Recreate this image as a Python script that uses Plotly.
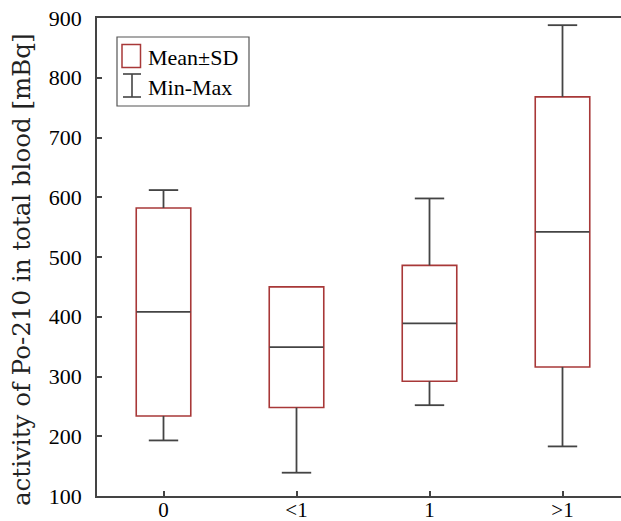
import plotly.graph_objects as go

categories = ["0", "<1", "1", ">1"]
means = [408, 349, 389, 542]
sds = [174, 101, 97, 226]
mins = [193, 139, 252, 183]
maxs = [612, 450, 598, 888]
y_ticks = [100, 200, 300, 400, 500, 600, 700, 800, 900]

RED = "#a83838"
DARK = "#444444"
SERIF = "Liberation Serif, Times New Roman, serif"

xs = list(range(len(categories)))
lows = [m - s for m, s in zip(means, sds)]
highs = [m + s for m, s in zip(means, sds)]

W, H = 630, 521
L, T, B = 97, 18, 25
PW, PH = W - L, H - T - B

fig = go.Figure()

# Mean ± SD boxes
fig.add_trace(go.Bar(
    x=xs, y=[2 * s for s in sds], base=lows, width=0.41,
    marker=dict(color="white", line=dict(color=RED, width=1.6)),
    showlegend=False, hoverinfo="skip",
))

# whisker stems
wx, wy = [], []
for i in xs:
    if maxs[i] > highs[i]:
        wx += [i, i, None]
        wy += [highs[i], maxs[i], None]
    if mins[i] < lows[i]:
        wx += [i, i, None]
        wy += [lows[i], mins[i], None]
fig.add_trace(go.Scatter(x=wx, y=wy, mode="lines",
                         line=dict(color=DARK, width=1.8),
                         showlegend=False, hoverinfo="skip"))

# whisker caps (line-ew symbol is 1.4 x size wide)
cx, cy = [], []
for i in xs:
    if maxs[i] > highs[i]:
        cx.append(i); cy.append(maxs[i])
    if mins[i] < lows[i]:
        cx.append(i); cy.append(mins[i])
fig.add_trace(go.Scatter(x=cx, y=cy, mode="markers",
                         marker=dict(symbol="line-ew", size=21,
                                     line=dict(color=DARK, width=1.8)),
                         showlegend=False, hoverinfo="skip"))

# mean lines
fig.add_trace(go.Scatter(x=xs, y=means, mode="markers",
                         marker=dict(symbol="line-ew", size=38.5,
                                     line=dict(color=DARK, width=1.8)),
                         showlegend=False, hoverinfo="skip"))

def px(x):
    return (x - L) / PW

def py(y):
    return (H - B - y) / PH

shapes = [
    dict(type="rect", xref="paper", yref="paper", x0=px(117), x1=px(249),
         y0=py(106), y1=py(37), line=dict(color="#555555", width=1.2)),
    dict(type="rect", xref="paper", yref="paper", x0=px(122), x1=px(140.5),
         y0=py(67.5), y1=py(44.5), line=dict(color=RED, width=1.5)),
    dict(type="line", xref="paper", yref="paper", x0=px(132), x1=px(132),
         y0=py(97), y1=py(74), line=dict(color=DARK, width=1.6)),
    dict(type="line", xref="paper", yref="paper", x0=px(123), x1=px(141),
         y0=py(97), y1=py(97), line=dict(color=DARK, width=1.6)),
    dict(type="line", xref="paper", yref="paper", x0=px(123), x1=px(141),
         y0=py(74), y1=py(74), line=dict(color=DARK, width=1.6)),
]
annotations = [
    dict(text="Mean±SD", xref="paper", yref="paper", x=px(146), y=py(57),
         xanchor="left", yanchor="middle", showarrow=False,
         font=dict(family=SERIF, size=22, color="black")),
    dict(text="Min-Max", xref="paper", yref="paper", x=px(146), y=py(87),
         xanchor="left", yanchor="middle", showarrow=False,
         font=dict(family=SERIF, size=22, color="black")),
    dict(text="activity of Po-210 in total blood [mBq]", textangle=-90,
         xref="paper", yref="paper", x=px(21), y=py(270),
         xanchor="center", yanchor="middle", showarrow=False,
         font=dict(family="DejaVu Serif", size=24.5, color="#222222")),
]

fig.update_layout(
    width=W, height=H,
    margin=dict(l=L, r=0, t=T, b=B, autoexpand=False),
    plot_bgcolor="white", paper_bgcolor="white",
    shapes=shapes, annotations=annotations,
    xaxis=dict(
        range=[-0.5, -0.5 + PW / 133.0], tickvals=xs, ticktext=categories,
        showline=True, linecolor=DARK, linewidth=1.6, mirror=True,
        ticks="inside", ticklen=5, tickcolor=DARK, tickwidth=1.5,
        showgrid=False, zeroline=False, automargin=False,
        ticklabelstandoff=-6,
        tickfont=dict(family=SERIF, size=21, color="black"),
    ),
    yaxis=dict(
        range=[100, 900], tickvals=y_ticks,
        showline=True, linecolor=DARK, linewidth=1.6, mirror=False,
        ticks="inside", ticklen=5, tickcolor=DARK, tickwidth=1.5,
        showgrid=False, zeroline=False, ticklabelstandoff=9, automargin=False,
        tickfont=dict(family=SERIF, size=22, color="black"),
    ),
)

fig.write_html(
    "out.html",
    config={"displayModeBar": False},
    post_script="document.body.style.margin='0';document.body.style.overflow='hidden';",
)
